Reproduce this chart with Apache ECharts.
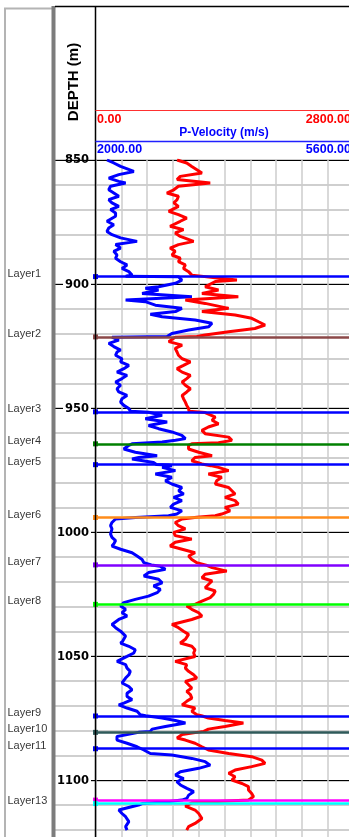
<!DOCTYPE html>
<html><head><meta charset="utf-8">
<script src="https://cdn.jsdelivr.net/npm/echarts@6/dist/echarts.min.js"></script>
<style>html,body{margin:0;padding:0;background:#fff}#c{width:349px;height:837px}</style>
</head><body><div id="c"></div>
<script>
// ---- data ----
const depthTicks = [850, 900, 950, 1000, 1050, 1100];
const velocityScale = [2000, 5600];
const redScale = [0, 2800];
const blueDepth = [850.0,851.2,852.6,854.6,855.9,857.3,858.6,859.3,860.6,862.0,863.3,864.6,866.0,867.3,868.7,870.0,871.4,872.7,874.7,876.1,877.4,878.8,880.1,881.4,882.8,884.1,885.5,886.8,888.3,889.6,891.0,892.3,893.7,895.0,896.4,896.9,897.1,898.4,899.7,901.1,901.7,902.4,903.8,905.1,906.4,907.1,908.5,909.8,911.1,912.2,913.2,914.5,915.8,917.2,918.5,919.9,921.1,921.4,922.6,923.9,925.2,926.6,927.4,928.7,930.1,931.4,932.8,934.1,935.5,936.8,938.1,939.5,940.8,942.2,943.5,944.9,946.2,947.6,948.9,950.2,951.3,951.7,952.9,954.3,955.6,957.0,958.3,959.6,961.0,962.3,963.0,963.7,964.4,965.0,966.5,967.8,969.2,969.9,970.5,971.9,972.7,972.9,973.2,973.9,975.2,976.6,977.9,979.3,980.6,982.0,983.3,984.6,986.0,987.3,988.7,990.0,991.4,992.7,993.4,994.1,994.7,996.1,997.4,998.7,1000.8,1002.1,1003.4,1004.5,1005.6,1006.9,1008.3,1009.6,1011.0,1012.3,1013.2,1013.7,1015.0,1016.3,1017.7,1019.0,1020.4,1021.7,1023.1,1024.4,1025.8,1027.1,1028.4,1029.1,1029.8,1031.1,1032.5,1033.8,1035.2,1037.2,1038.5,1039.9,1041.9,1043.9,1044.7,1046.0,1047.4,1048.7,1050.1,1052.1,1053.4,1054.8,1056.1,1057.5,1058.8,1060.8,1062.2,1063.5,1064.9,1066.2,1067.5,1068.9,1069.6,1070.9,1072.2,1073.6,1074.0,1074.9,1075.9,1076.9,1078.3,1079.4,1080.3,1080.7,1081.6,1082.4,1083.8,1085.1,1086.5,1087.8,1089.2,1089.8,1091.2,1092.5,1093.9,1095.2,1096.6,1097.9,1099.3,1100.6,1101.9,1103.3,1104.6,1106.0,1107.3,1108.0,1108.7,1109.4,1110.0,1112.0,1113.4,1114.7,1116.7,1118.7,1120.1];
const blueVel = [2160,2255,2350,2535,2325,2185,2325,2420,2210,2185,2255,2325,2185,2230,2325,2210,2280,2280,2160,2255,2185,2160,2230,2350,2580,2280,2350,2255,2300,2280,2350,2440,2370,2465,2510,2420,3160,3205,3115,2880,2695,2880,2650,3345,2420,2695,2835,3205,3115,2765,2930,3390,3625,3580,3300,3065,3000,2230,2325,2185,2255,2350,2300,2280,2370,2350,2465,2395,2300,2440,2370,2280,2350,2300,2325,2440,2370,2350,2395,2465,2490,2740,2930,2695,3000,2740,2880,3065,3205,3255,3115,2930,2510,2465,2395,2555,2860,2605,2510,2810,2850,3020,3065,2930,3115,2835,3065,2975,3065,3205,3160,3230,3090,3205,3090,3045,3205,3135,3020,2560,2280,2230,2210,2230,2210,2230,2280,2260,2230,2350,2510,2580,2650,2675,2780,2905,2975,2740,2675,2880,2930,2810,2905,2860,2740,2555,2395,2370,2350,2420,2370,2440,2325,2230,2280,2350,2420,2380,2350,2465,2555,2535,2440,2300,2420,2440,2485,2465,2420,2370,2465,2510,2440,2440,2510,2395,2325,2440,2580,2625,2700,2930,3115,3255,2975,2790,2765,2600,2440,2300,2300,2440,2580,2675,2765,3065,3345,3530,3600,3440,3185,3115,3230,3135,3185,3275,3370,3300,3275,3205,3000,2650,2600,2325,2370,2420,2465,2420,2440,2370];
const redDepth = [850.0,851.2,852.6,853.9,855.2,856.6,857.9,859.3,860.6,862.0,863.3,864.6,866.0,867.3,868.7,870.7,872.0,873.4,874.7,876.7,878.1,879.4,880.8,882.8,884.1,885.5,886.8,888.3,889.6,891.0,892.3,893.7,895.0,896.4,897.0,897.5,898.4,899.0,901.1,902.4,903.8,905.1,906.4,907.8,909.8,911.1,912.5,913.8,915.2,916.5,917.9,919.2,920.5,921.1,921.4,923.2,924.6,925.9,927.4,928.7,930.1,931.4,932.8,934.1,935.5,936.8,938.1,939.5,940.8,942.2,943.5,944.9,946.2,947.6,948.9,950.2,951.3,951.8,953.6,954.9,956.3,957.6,959.0,960.3,961.7,963.0,964.0,964.4,965.0,966.5,967.8,969.2,969.9,971.2,972.5,973.2,973.9,975.2,976.6,977.9,979.3,980.6,982.0,983.3,984.6,986.0,987.3,988.7,990.0,991.4,992.7,993.4,994.0,994.7,996.1,997.4,998.7,1000.1,1001.4,1002.8,1004.1,1005.6,1006.9,1008.3,1009.6,1011.0,1012.3,1013.3,1014.3,1015.7,1017.0,1018.4,1019.7,1021.1,1022.4,1023.7,1025.1,1026.4,1027.8,1029.1,1029.8,1031.1,1032.5,1033.8,1035.2,1037.2,1038.5,1039.9,1041.2,1043.2,1044.7,1046.0,1047.4,1048.7,1050.1,1052.1,1053.4,1054.8,1056.1,1057.5,1058.8,1060.2,1061.5,1062.8,1064.2,1065.5,1066.9,1068.2,1069.6,1070.9,1072.2,1073.6,1074.0,1074.9,1075.9,1076.9,1078.3,1079.4,1080.3,1080.7,1081.6,1083.0,1083.8,1085.1,1086.5,1087.8,1089.2,1090.5,1091.9,1093.2,1094.5,1095.9,1097.2,1098.6,1099.9,1101.3,1102.6,1103.9,1105.3,1106.6,1108.0,1109.1,1110.4,1112.0,1113.4,1115.4,1117.4,1118.7,1120.1];
const redVal = [885,990,1045,1100,1155,920,885,1245,900,850,775,900,885,850,900,795,900,990,920,810,955,865,920,1065,900,810,865,830,920,900,975,955,1010,1045,1050,1300,1535,1300,1190,1335,1155,1550,975,1190,1445,1155,1515,1695,1770,1840,1730,1445,1190,1100,865,795,940,865,885,900,940,1030,955,885,940,1030,990,940,975,1030,990,940,955,975,990,1010,1015,1190,1300,1265,1335,1225,1155,1190,1445,1480,1335,1045,1010,1010,1120,1265,1080,1045,1155,1250,1335,1445,1225,1370,1315,1300,1445,1480,1515,1405,1515,1550,1405,1460,1370,1300,1100,940,865,900,975,850,865,1045,865,810,940,1080,1010,1045,1100,1200,1265,1425,1190,1155,1265,1225,1190,1300,1280,1245,1155,1080,990,1045,1120,1155,1045,830,900,955,1010,975,920,1045,1080,1065,1080,865,990,975,1010,1065,1100,975,1010,1045,990,1030,1045,990,940,1080,1045,1100,1150,1225,1405,1605,1405,1225,1175,1100,940,885,975,1080,1155,1225,1445,1695,1805,1840,1695,1515,1445,1515,1480,1590,1660,1660,1695,1715,1660,1045,975,1080,1120,1155,1080,1010,990];
const layerNames = ['Layer1','Layer2','Layer3','Layer4','Layer5','Layer6','Layer7','Layer8','Layer9','Layer10','Layer11','Layer12','Layer13'];
const layerDepths = [897.0,921.3,951.5,964.4,972.8,994.1,1013.2,1029.1,1074.1,1080.7,1087.3,1108.0,1109.4];
const layerLabelShown = [1,1,1,1,1,1,1,1,1,1,1,0,1];
// ---- styles ----
const layerColors = ['#0000ff','#8b4848','#0000ff','#008000','#0000ff','#ff8c1a','#8000ff','#00ff00','#0000ff','#2f5a5a','#0000ff','#ff00ff','#00ffff'];

const DMIN = 850, DMAX = 1130, PXM = 2.481, TOP = 160;
const GH = (DMAX - DMIN) * PXM;
const FONT = "'Liberation Sans', Arial, sans-serif";
const chart = echarts.init(document.getElementById('c'), null, {renderer: 'canvas'});

function yAx(grid, interval, color, width) {
  return {
    type: 'value', gridIndex: grid, position: 'left', inverse: true, min: DMIN, max: DMAX, interval: interval,
    axisLine: {show: false}, axisTick: {show: false}, axisLabel: {show: false},
    splitLine: {show: true, lineStyle: {color: color, width: width}}
  };
}
const hiddenX = (g) => ({type: 'value', gridIndex: g, min: 0, max: 1, show: false});
const gridBase = {outerBoundsMode: 'none', containLabel: false};
const depthLabelStyle = {fontFamily: 'DejaVu Sans', fontWeight: 'bold', fontSize: 11.5, color: '#000', padding: [1, 2, 0, 2]};

chart.setOption({
  animation: false,
  backgroundColor: '#fff',
  grid: [
    Object.assign({left: 95.5, top: TOP, width: 258, height: GH}, gridBase),
    Object.assign({left: 55, top: TOP, width: 40.5, height: GH}, gridBase),
    Object.assign({left: 5, top: TOP, width: 47, height: GH}, gridBase)
  ],
  xAxis: [
    {type: 'value', gridIndex: 0, min: velocityScale[0], max: velocityScale[1], interval: 360, position: 'top',
     axisLine: {show: false}, axisTick: {show: false}, axisLabel: {show: false},
     splitLine: {show: true, lineStyle: {color: '#cccccc', width: 1.5}}},
    {type: 'value', gridIndex: 0, min: redScale[0], max: redScale[1], show: false},
    hiddenX(1), hiddenX(2)
  ],
  yAxis: [
    yAx(0, 10, '#cfcfcf', 2),
    yAx(0, 50, '#000000', 1.2),
    yAx(1, 10, '#cfcfcf', 2),
    yAx(1, 50, '#000000', 1.2),
    {type: 'value', gridIndex: 2, position: 'left', inverse: true, min: DMIN, max: DMAX, show: false},
    {type: 'value', gridIndex: 0, position: 'left', inverse: true, min: DMIN, max: DMAX, interval: 10, z: 10,
     axisLine: {show: false}, axisTick: {show: false}, splitLine: {show: false},
     axisLabel: {show: true, interval: 0, margin: 4.5, hideOverlap: false,
       formatter: v => depthTicks.indexOf(v) < 0 ? '' : (v === DMIN ? '{s|' + v + '}' : '{b|' + v + '}'),
       rich: {
         b: Object.assign({backgroundColor: '#fff'}, depthLabelStyle),
         s: Object.assign({}, depthLabelStyle)
       }}}
  ],
  series: [
    {type: 'line', name: 'P-Velocity', xAxisIndex: 0, yAxisIndex: 0, showSymbol: false, symbol: 'none',
     data: blueDepth.map((d, i) => [blueVel[i], d]),
     lineStyle: {color: '#0000ff', width: 3}, z: 3},
    {type: 'line', name: 'Red log', xAxisIndex: 1, yAxisIndex: 0, showSymbol: false, symbol: 'none',
     data: redDepth.map((d, i) => [redVal[i], d]),
     lineStyle: {color: '#ff0000', width: 3}, z: 4},
    {type: 'line', name: 'Layers', xAxisIndex: 0, yAxisIndex: 0, showSymbol: false, symbol: 'none',
     data: [[velocityScale[0], DMIN]], lineStyle: {width: 0}, z: 6,
     markLine: {silent: true, symbol: ['rect', 'none'], symbolSize: 5, animation: false,
       label: {show: false},
       data: layerDepths.map((d, i) => ({yAxis: d,
         lineStyle: {color: layerColors[i], width: 2.5, type: 'solid'},
         itemStyle: {color: layerColors[i]}}))}},
    {type: 'scatter', name: 'Layer labels', xAxisIndex: 3, yAxisIndex: 4, symbolSize: 1,
     itemStyle: {color: 'rgba(0,0,0,0)'},
     data: layerDepths.map((d, i) => ({value: [0, d], name: layerNames[i]})),
     label: {show: true, position: 'right', distance: 2, offset: [0, -3],
       fontFamily: FONT, fontSize: 11, color: '#000',
       formatter: p => layerLabelShown[p.dataIndex] ? p.name : ''}}
  ],
  graphic: [
    {type: 'rect', shape: {x: 5, y: 8.5, width: 48, height: 840}, style: {fill: 'none', stroke: '#b4b4b4', lineWidth: 2}, z: 100},
    {type: 'rect', shape: {x: 51.5, y: 6, width: 4, height: 840}, style: {fill: '#7c7c7c'}, z: 100},
    {type: 'line', shape: {x1: 55, y1: 6.5, x2: 349, y2: 6.5}, style: {stroke: '#000', lineWidth: 1.5}, z: 100},
    {type: 'line', shape: {x1: 95.5, y1: 6, x2: 95.5, y2: 837}, style: {stroke: '#000', lineWidth: 1.5}, z: 100},
    {type: 'line', shape: {x1: 95.5, y1: 110.5, x2: 349, y2: 110.5}, style: {stroke: '#ff3030', lineWidth: 1}, z: 100},
    {type: 'line', shape: {x1: 95.5, y1: 141.5, x2: 349, y2: 141.5}, style: {stroke: '#2020ff', lineWidth: 1.5}, z: 100},
    {type: 'text', x: 74, y: 82, rotation: Math.PI / 2, z: 100,
     style: {text: 'DEPTH (m)', fill: '#000', font: 'bold 15px ' + FONT, align: 'center', verticalAlign: 'middle'}},
    {type: 'text', x: 97, y: 120, z: 100, style: {text: '0.00', fill: '#ff0000', font: 'bold 12.5px ' + FONT, align: 'left', verticalAlign: 'middle'}},
    {type: 'text', x: 351, y: 120, z: 100, style: {text: '2800.00', fill: '#ff0000', font: 'bold 12.5px ' + FONT, align: 'right', verticalAlign: 'middle'}},
    {type: 'text', x: 224, y: 133, z: 100, style: {text: 'P-Velocity (m/s)', fill: '#0000ff', font: 'bold 12px ' + FONT, align: 'center', verticalAlign: 'middle'}},
    {type: 'text', x: 97, y: 149.5, z: 100, style: {text: '2000.00', fill: '#0000ff', font: 'bold 12.5px ' + FONT, align: 'left', verticalAlign: 'middle'}},
    {type: 'text', x: 351, y: 149.5, z: 100, style: {text: '5600.00', fill: '#0000ff', font: 'bold 12.5px ' + FONT, align: 'right', verticalAlign: 'middle'}}
  ]
});
</script></body></html>
